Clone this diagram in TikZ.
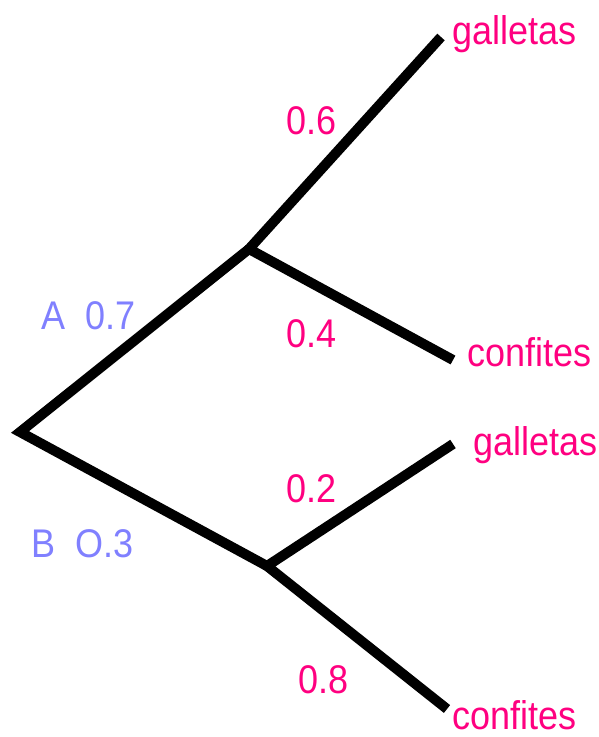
\documentclass[tikz,border=0pt]{standalone}
\usepackage{fontspec}
\setmainfont{Liberation Sans}
\usetikzlibrary{positioning}
\definecolor{treepink}{HTML}{FF0080}
\definecolor{treeblue}{HTML}{8080FF}

\begin{document}
\begin{tikzpicture}[
    x=1pt, y=-1pt,
    branch/.style={draw=black, line width=10pt, line join=miter},
    leaf/.style={anchor=base west, inner sep=0pt, xscale=0.9, text=treepink,
                 font=\fontsize{40}{44}\selectfont},
    prob/.style={leaf},
    event/.style={leaf, text=treeblue},
]
    \useasboundingbox (0,0) rectangle (599,737);

    % Junctions
    \coordinate (root) at (20,432);
    \coordinate (nodeA) at (249,249);
    \coordinate (nodeB) at (267,566);

    % Ends
    \coordinate (endAg) at (441,37);
    \coordinate (endAc) at (453,360);
    \coordinate (endBg) at (453,444);
    \coordinate (endBc) at (447,709);

    % Branches
    \draw[branch] (nodeA) -- (root) -- (nodeB);
    \draw[branch] (endAg) -- (nodeA) -- (endAc);
    \draw[branch] (endBg) -- (nodeB) -- (endBc);

    % Outcomes
    \node[leaf] (galA) at (452,44) {galletas};
    \node[leaf] (conA) at (467,366) {confites};
    \node[leaf] (galB) at (473,455) {galletas};
    \node[leaf] (conB) at (452,729) {confites};

    % Probabilities
    \node[prob] (pAg) at (286,134) {0.6};
    \node[prob] (pAc) at (286,347) {0.4};
    \node[prob] (pBg) at (286,502) {0.2};
    \node[prob] (pBc) at (298,693) {0.8};

    % First stage
    \node[event] (evA) at (41,329) {A~~0.7};
    \node[event] (evB) at (31,557) {B~~O.3};
\end{tikzpicture}
\end{document}
